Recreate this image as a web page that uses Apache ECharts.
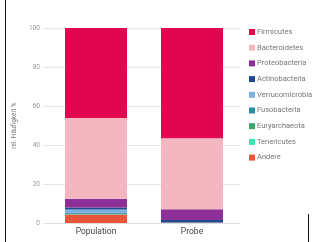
<!DOCTYPE html>
<html>
<head>
<meta charset="utf-8">
<script src="https://cdn.jsdelivr.net/npm/echarts@6/dist/echarts.min.js"></script>
<style>
    html, body { margin: 0; padding: 0; background: #fff; }
    #chart { width: 317px; height: 242px; position: relative; }
    .edgeL { position: absolute; left: 5px; top: 0; width: 1px; height: 242px; background: #111; }
    .edgeR { position: absolute; left: 308px; top: 214px; width: 1px; height: 28px; background: #111; }
</style>
</head>
<body>
<div id="chart"></div>
<div class="edgeL"></div>
<div class="edgeR"></div>
<script>
    // Kategorien
    var categories = ['Population', 'Probe'];
    // Phyla (Legende oben -> unten)
    var phyla = ['Firmicutes', 'Bacteroidetes', 'Proteobacteria', 'Actinobacteria', 'Verrucomicrobia',
        'Fusobacteria', 'Euryarchaeota', 'Tenericutes', 'Andere'];
    var phylaColors = ['#e1064f', '#f4b6c0', '#8e2e97', '#1f4a8e', '#7fb2e2',
        '#2a8ca4', '#3da56e', '#3de3b0', '#e8553a'];
    // Werte in %
    var firmicutes = [46.2, 56.6];
    var bacteroidetes = [41.4, 36.4];
    var proteobacteria = [4.5, 5.5];
    var actinobacteria = [1.0, 1.3];
    var verrucomicrobia = [1.8, 0.1];
    var fusobacteria = [0.3, 0.0];
    var euryarchaeota = [0.3, 0.0];
    var tenericutes = [0.2, 0.0];
    var andere = [4.3, 0.1];
    var yTicks = [0, 20, 40, 60, 80, 100];

    var values = [firmicutes, bacteroidetes, proteobacteria, actinobacteria, verrucomicrobia,
        fusobacteria, euryarchaeota, tenericutes, andere];

    // gestapelt von unten (Andere) nach oben (Firmicutes)
    var series = [];
    for (var i = phyla.length - 1; i >= 0; i--) {
        series.push({
            name: phyla[i],
            type: 'bar',
            stack: 'total',
            barWidth: 62,
            color: phylaColors[i],
            data: values[i]
        });
    }

    var myChart = echarts.init(document.getElementById('chart'));
    var option = {
        animation: false,
        grid: {
            left: 48,
            top: 28,
            width: 192,
            height: 195
        },
        legend: {
            data: phyla,
            orient: 'vertical',
            left: 244,
            top: 23,
            itemWidth: 6,
            itemHeight: 6,
            itemGap: 7.7,
            icon: 'rect',
            textStyle: {
                fontSize: 7.5,
                color: '#777',
                fontFamily: 'Roboto',
                padding: [0, 0, 0, -3]
            }
        },
        xAxis: {
            type: 'category',
            data: categories,
            axisLine: { lineStyle: { color: '#ddd' } },
            axisTick: { show: false },
            axisLabel: {
                fontSize: 8.5,
                color: '#444',
                fontFamily: 'Roboto',
                margin: 4
            }
        },
        yAxis: {
            type: 'value',
            min: yTicks[0],
            max: yTicks[yTicks.length - 1],
            interval: 20,
            name: 'rel. Häufigkeit %',
            nameLocation: 'center',
            nameGap: 30,
            nameTextStyle: { fontSize: 6.5, color: '#777', fontFamily: 'Roboto' },
            axisLine: { show: false },
            axisTick: { show: true, length: 5, lineStyle: { color: '#e6e6e6' } },
            axisLabel: { fontSize: 6.5, color: '#999', fontFamily: 'Roboto', margin: 8 },
            splitLine: { lineStyle: { color: '#e6e6e6' } }
        },
        series: series
    };
    myChart.setOption(option);
</script>
</body>
</html>
